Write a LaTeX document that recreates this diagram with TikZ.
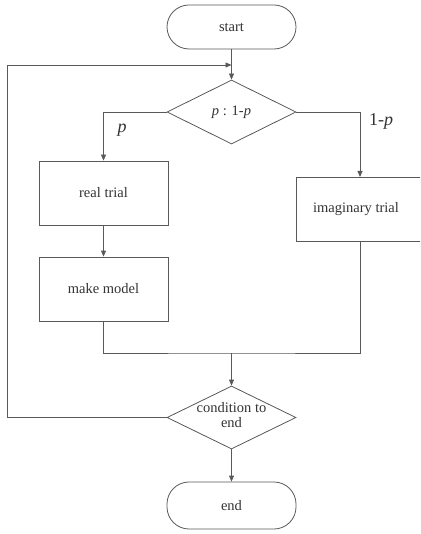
\documentclass[tikz,border=0pt]{standalone}
\usepackage{fontspec}
\setmainfont{Liberation Serif}
\newfontfamily\tnr{Liberation Serif}
\usetikzlibrary{shapes.geometric,arrows.meta}
\begin{document}
\begin{tikzpicture}[x=1pt,y=-1pt,
  line width=0.8pt,
  every node/.style={font=\tnr\fontsize{14.5}{16}\selectfont, text=black!80},
  conn/.style={draw=black!65},
  arr/.style={conn,-{Triangle[length=6pt,width=5pt]}},
  term/.style={draw=black!65, rounded corners=22pt, minimum width=129pt, minimum height=44pt, inner sep=0pt},
  boxn/.style={draw=black!65, minimum width=129pt, minimum height=64pt, inner sep=0pt},
  dia/.style={draw=black!65, diamond, minimum width=129pt, minimum height=64pt, inner sep=0pt},
  lab/.style={font=\tnr\fontsize{18}{20}\selectfont, text=black!80}
]
\useasboundingbox (0,0) rectangle (420,534);
\clip (0,0) rectangle (420,534);
\fill[white] (0,0) rectangle (420,534);

\node[term] (start) at (231.5,27) {start};
\node[dia] (d1) at (231.5,112) {};
\node (d1t) at (231.5,112) {\textit{p} : 1-\textit{p}};
\node[boxn] (real) at (103.5,193) {real trial};
\node[boxn] (make) at (103.5,289) {make model};
\node[boxn, minimum width=125pt] (imag) at (358.5,209) {};
\node (imagt) at (356,209) {imaginary trial};
\node[dia, minimum height=63pt] (d2) at (231.5,417.5) {};
\node[align=center, text depth=0pt] (d2t) at (231.5,415) {condition to\\[-1pt]end};
\node[term, minimum height=47pt] (end) at (231.5,505.5) {end};

\coordinate (mrg) at (231.5,353);
\coordinate (loopin) at (231.5,65);

\draw[arr] (start) -- (d1);
\draw[arr] (d1.west) -| (real.north);
\draw[arr] (d1.east) -| (360,177);
\draw[arr] (real) -- (make);
\draw[conn] (make.south) |- (mrg) -| (360,241);
\draw[arr] (mrg) -- (d2.north);
\draw[arr] (d2.south) -- (end.north);
\draw[conn] (d2.west) -- (7,417.5) -- (7,65) -- (200,65);
\draw[arr] (200,65) -- (loopin);

\node[lab] (lp) at (122,130) {\textit{p}};
\node[lab] (lq) at (381,121) {1-\textit{p}};
\end{tikzpicture}
\end{document}
